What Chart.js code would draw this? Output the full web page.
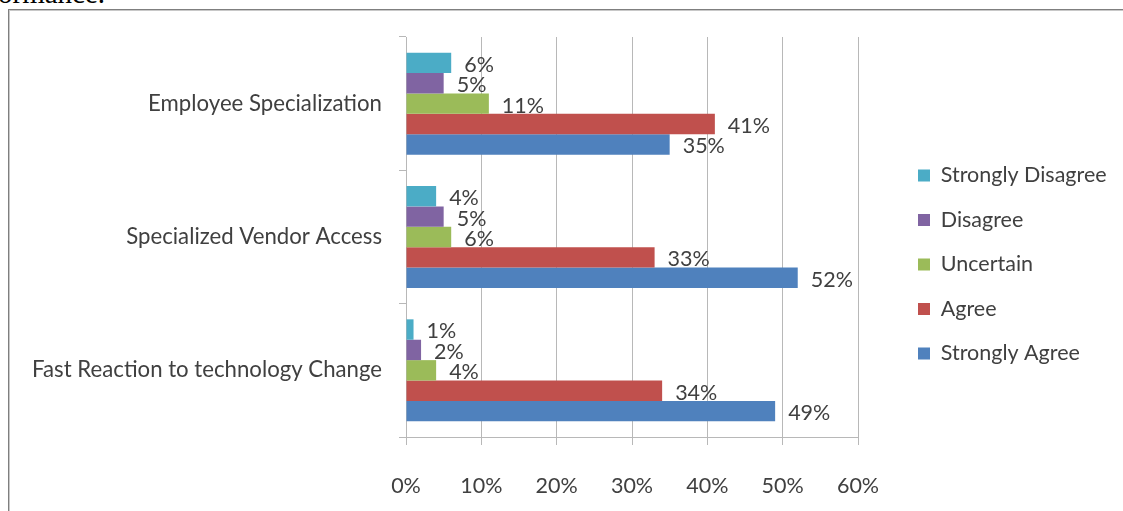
<!DOCTYPE html>
<html><head><meta charset="utf-8">
<script src="https://cdn.jsdelivr.net/npm/chart.js@4"></script>
<style>
html,body{margin:0;padding:0;background:#fff;overflow:hidden}
#wrap{position:relative;width:1123px;height:511px;overflow:hidden}
#frame{position:absolute;left:8px;top:9px;width:1140px;height:540px;border:1px solid #7f7f7f;box-shadow:inset 1px 1px 0 #c8c8c8;box-sizing:border-box}
#cut{position:absolute;left:-2px;top:-23px;font:29px "Liberation Serif",serif;color:#000;white-space:nowrap}
canvas{position:absolute;left:0;top:0}
</style></head><body>
<div id="wrap"><div id="cut">ormance.</div><div id="frame"></div><canvas id="c" width="1123" height="511"></canvas></div>
<script>
const categories = ["Employee Specialization", "Specialized Vendor Access", "Fast Reaction to technology Change"];
const seriesNames = ["Strongly Disagree", "Disagree", "Uncertain", "Agree", "Strongly Agree"];
const stronglyDisagree = [6, 4, 1];
const disagree = [5, 5, 2];
const uncertain = [11, 6, 4];
const agree = [41, 33, 34];
const stronglyAgree = [35, 52, 49];
const xTickValues = [0, 10, 20, 30, 40, 50, 60];
const xTickLabels = ["0%", "10%", "20%", "30%", "40%", "50%", "60%"];

const seriesColors = ['#4bacc6', '#8064a2', '#9bbb59', '#c0504d', '#4f81bd'];
const seriesValues = [stronglyDisagree, disagree, uncertain, agree, stronglyAgree];
const FONT = 'Lato';
const FS = 21.5;
const TXT = '#404040';
const GRID = '#b8b8b8';

Chart.defaults.font.family = FONT;
Chart.defaults.font.size = FS;
Chart.defaults.color = TXT;

const valueLabels = {
  id: 'valueLabels',
  afterDatasetsDraw(chart) {
    const ctx = chart.ctx;
    ctx.save();
    ctx.font = FS + 'px ' + FONT;
    ctx.fillStyle = TXT;
    ctx.textAlign = 'left';
    ctx.textBaseline = 'middle';
    chart.data.datasets.forEach((ds, i) => {
      const meta = chart.getDatasetMeta(i);
      meta.data.forEach((bar, j) => {
        ctx.fillText(ds.data[j] + '%', bar.x + 13, bar.y + 2);
      });
    });
    ctx.restore();
  }
};

const LEG_PAD = 44.5 - FS;
const legendShift = {
  id: 'legendShift',
  beforeDraw(chart) {
    const lg = chart.legend;
    if (lg) {
      const w = lg.width;
      lg.left = 918 - LEG_PAD;
      lg.right = lg.left + w;
      lg.top = 37;
      lg.bottom = 492;
      lg.height = lg.bottom - lg.top;
    }
  }
};

const chart = new Chart(document.getElementById('c'), {
  type: 'bar',
  data: {
    labels: categories,
    datasets: seriesNames.map((name, i) => ({
      label: name,
      data: seriesValues[i],
      backgroundColor: seriesColors[i],
      borderWidth: 0,
      barPercentage: 1,
      categoryPercentage: 0.765
    }))
  },
  options: {
    indexAxis: 'y',
    responsive: false,
    animation: false,
    devicePixelRatio: 1,
    layout: { padding: { top: 37, left: 0, right: 200, bottom: 0 } },
    plugins: {
      tooltip: { enabled: false },
      legend: {
        position: 'right',
        labels: { boxWidth: 12, boxHeight: 12, padding: LEG_PAD, color: TXT, font: { size: FS, family: FONT } }
      }
    },
    scales: {
      x: {
        min: 0, max: 60,
        afterBuildTicks(s) { s.ticks = xTickValues.map(v => ({ value: v })); },
        ticks: { callback: (v, i) => xTickLabels[i], padding: 28, color: TXT, font: { size: FS } },
        grid: { color: GRID, lineWidth: 1, tickLength: 8, drawTicks: true },
        border: { color: GRID },
        afterFit(s) { s.height = 74; }
      },
      y: {
        grid: { drawOnChartArea: false, tickLength: 7, offset: true, color: GRID },
        border: { color: GRID },
        ticks: { padding: 17, color: TXT, font: { size: 22.2 } },
        afterFit(s) { s.width = 406; }
      }
    }
  },
  plugins: [valueLabels, legendShift]
});
const diff = chart.chartArea.right - 858;
chart.options.layout.padding.right += diff;
chart.update();
</script>
</body></html>
